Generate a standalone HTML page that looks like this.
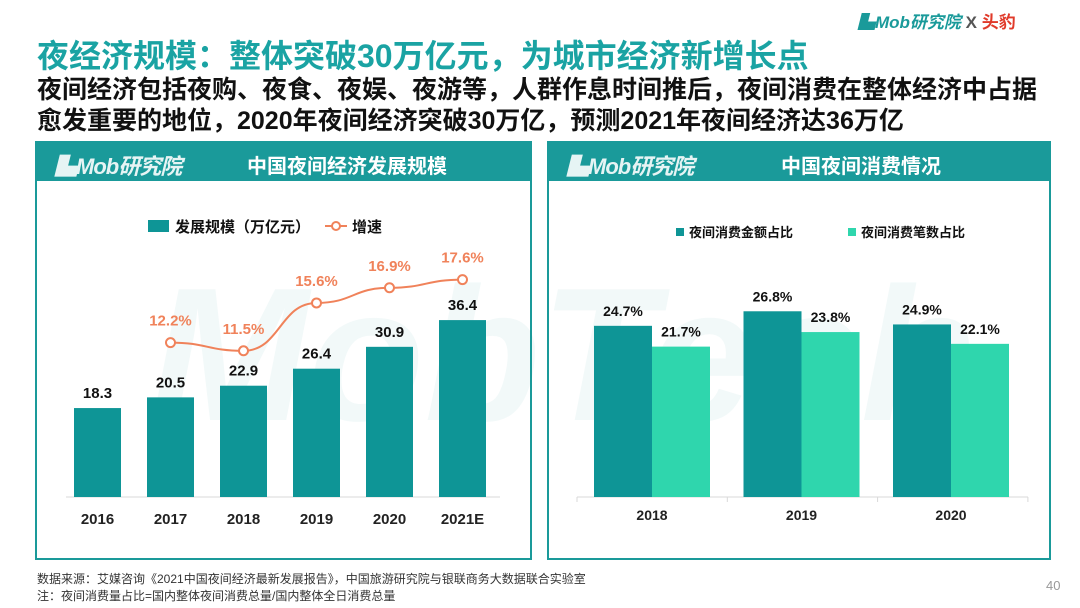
<!DOCTYPE html>
<html><head><meta charset="utf-8">
<style>
body{margin:0;width:1080px;height:608px;background:#fff;overflow:hidden;position:relative;font-family:"Liberation Sans","Noto Sans CJK SC",sans-serif;}
.abs{position:absolute;}
.panel{position:absolute;border:2px solid #1a9a9a;background:#fff;box-sizing:border-box;}
.hdr{position:absolute;left:0;top:0;right:0;height:38px;background:#1a9a9a;color:#fff;font-weight:bold;}
.logo{position:absolute;left:18px;top:6px;font-size:22px;font-style:italic;color:#e6f4f4;font-weight:bold;letter-spacing:-1px;}
.ptitle{position:absolute;top:7px;font-size:20px;}
</style></head><body>
<div class="abs" style="left:858px;top:8px;font-size:17px;font-weight:bold;font-style:italic;color:#1a9a9a;">▙Mob研究院 <span style="color:#555;font-style:normal">X</span> <span style="color:#e03a2a;font-style:normal">头豹</span></div>
<div class="abs" style="left:37px;top:31px;font-size:32px;font-weight:bold;color:#1aa3a3;white-space:nowrap;">夜经济规模：整体突破30万亿元，为城市经济新增长点</div>
<div class="abs" style="left:37px;top:75px;font-size:25px;font-weight:bold;color:#111;line-height:31px;white-space:nowrap;">夜间经济包括夜购、夜食、夜娱、夜游等，人群作息时间推后，夜间消费在整体经济中占据<br>愈发重要的地位，2020年夜间经济突破30万亿，预测2021年夜间经济达36万亿</div>

<div class="panel" style="left:35px;top:141px;width:497px;height:419px;">
 <div class="hdr"><span class="logo">▙Mob研究院</span><span class="ptitle" style="left:210px">中国夜间经济发展规模</span></div>
</div>
<div class="panel" style="left:547px;top:141px;width:504px;height:419px;">
 <div class="hdr"><span class="logo">▙Mob研究院</span><span class="ptitle" style="left:232px">中国夜间消费情况</span></div>
</div>

<svg class="abs" style="left:0;top:0" width="1080" height="608">
<text x="150" y="420" font-size="190" font-weight="bold" font-style="italic" fill="#1a9a9a" fill-opacity="0.06" font-family="Liberation Sans">MobTech</text>
<g id="c1"></g><g id="c2"></g>
</svg>

<div class="abs" style="left:37px;top:571px;font-size:12px;color:#333;line-height:17px;">数据来源：艾媒咨询《2021中国夜间经济最新发展报告》，中国旅游研究院与银联商务大数据联合实验室<br>注：夜间消费量占比=国内整体夜间消费总量/国内整体全日消费总量</div>
<div class="abs" style="left:1046px;top:578px;font-size:13px;color:#999;">40</div>

<script>
const years1=["2016","2017","2018","2019","2020","2021E"];
const scale1=[18.3,20.5,22.9,26.4,30.9,36.4];
const growth=[null,12.2,11.5,15.6,16.9,17.6];
const years2=["2018","2019","2020"];
const amountShare=[24.7,26.8,24.9];
const countShare=[21.7,23.8,22.1];

const NS="http://www.w3.org/2000/svg";
function mk(p,tag,a,txt){const e=document.createElementNS(NS,tag);for(const k in a)e.setAttribute(k,a[k]);if(txt!==undefined)e.textContent=txt;p.appendChild(e);return e;}
const F='"Liberation Sans","Noto Sans CJK SC",sans-serif';

// chart 1
const c1=document.getElementById('c1');
const base1=497, x1=i=>97.5+i*73, y1=v=>base1-v*4.86, yg=v=>485-v*11.67;
let l=mk(c1,'line',{x1:66,x2:500,y1:base1,y2:base1,stroke:'#d9d9d9'});


years1.forEach((y,i)=>{
 let r=mk(c1,'rect',{x:x1(i)-23.5,y:y1(scale1[i]),width:47,height:base1-y1(scale1[i]),fill:'#0e9596'});
 
 
 let t=mk(c1,'text',{x:x1(i),y:y1(scale1[i])-10,'text-anchor':'middle','font-size':15,'font-weight':'bold',fill:'#111','font-family':F},scale1[i].toFixed(1));
 
 
 let xt=mk(c1,'text',{x:x1(i),y:524,'text-anchor':'middle','font-size':15,'font-weight':'bold',fill:'#222','font-family':F},y);
 
 
});
const pts=[];growth.forEach((g,i)=>{if(g!==null)pts.push([x1(i),yg(g),g]);});
let d='M'+pts[0][0]+','+pts[0][1];
for(let i=1;i<pts.length;i++){const [a,b]=pts[i-1],[c,e]=pts[i];const m=(c-a)/2;d+=` C${a+m},${b} ${c-m},${e} ${c},${e}`;}
let pl=mk(c1,'path',{d:d,fill:'none',stroke:'#f0825a','stroke-width':2});


pts.forEach(p=>{
 let c=mk(c1,'circle',{cx:p[0],cy:p[1],r:4.5,fill:'#fff',stroke:'#f0825a','stroke-width':2});
 
 
 let t=mk(c1,'text',{x:p[0],y:p[1]-17,'text-anchor':'middle','font-size':15,'font-weight':'bold',fill:'#f0825a','font-family':F},p[2].toFixed(1)+'%');
 
 
});
let lg=mk(c1,'g',{});


mk(lg,'rect',{x:148,y:220,width:21,height:12,fill:'#0e9596'});
mk(lg,'text',{x:175,y:232,'font-size':15,'font-weight':'bold',fill:'#111','font-family':F},'发展规模（万亿元）');
mk(lg,'line',{x1:325,x2:347,y1:226,y2:226,stroke:'#f0825a','stroke-width':2});
mk(lg,'circle',{cx:336,cy:226,r:4,fill:'#fff',stroke:'#f0825a','stroke-width':2});
mk(lg,'text',{x:352,y:232,'font-size':15,'font-weight':'bold',fill:'#111','font-family':F},'增速');

// chart 2
const c2=document.getElementById('c2');
const base2=497, gx=i=>652+i*149.5, y2=v=>base2-v*6.93;
let ax=mk(c2,'line',{x1:577,x2:1028,y1:base2,y2:base2,stroke:'#d9d9d9'});


for(let k=0;k<=years2.length;k++){let tk=mk(c2,'line',{x1:577+k*150.3,x2:577+k*150.3,y1:base2,y2:base2+5,stroke:'#d9d9d9'});}
years2.forEach((y,i)=>{
 [[amountShare,'#0e9596',-58],[countShare,'#2fd6ad',0]].forEach(([arr,col,off],s)=>{
  let r=mk(c2,'rect',{x:gx(i)+off,y:y2(arr[i]),width:58,height:base2-y2(arr[i]),fill:col});
  
  
  let t=mk(c2,'text',{x:gx(i)+off+29,y:y2(arr[i])-10,'text-anchor':'middle','font-size':14,'font-weight':'bold',fill:'#111','font-family':F},arr[i].toFixed(1)+'%');
  
  
 });
 let xt=mk(c2,'text',{x:gx(i),y:520,'text-anchor':'middle','font-size':14,'font-weight':'bold',fill:'#222','font-family':F},y);
 
 
});
let lg2=mk(c2,'g',{});


mk(lg2,'rect',{x:676,y:228,width:8,height:8,fill:'#0e9596'});
mk(lg2,'text',{x:689,y:237,'font-size':13,'font-weight':'bold',fill:'#111','font-family':F},'夜间消费金额占比');
mk(lg2,'rect',{x:848,y:228,width:8,height:8,fill:'#2fd6ad'});
mk(lg2,'text',{x:861,y:237,'font-size':13,'font-weight':'bold',fill:'#111','font-family':F},'夜间消费笔数占比');
</script>
</body></html>
